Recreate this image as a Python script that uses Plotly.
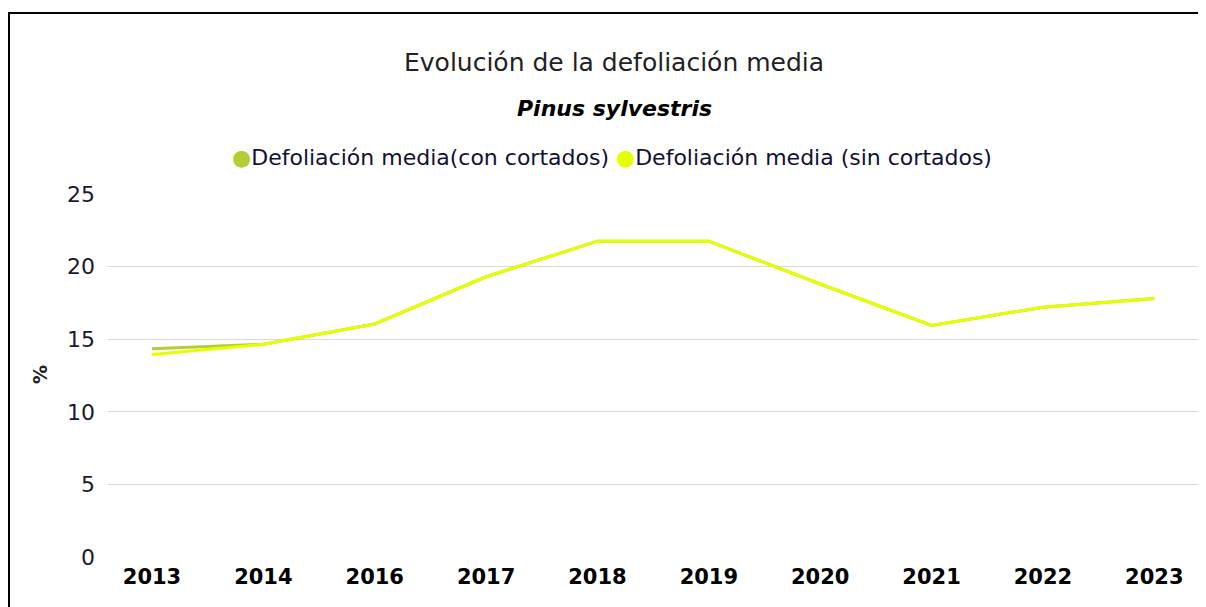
import plotly.graph_objects as go

years = ["2013", "2014", "2016", "2017", "2018", "2019", "2020", "2021", "2022", "2023"]
con_cortados = [14.35, 14.65, 16.05, 19.3, 21.75, 21.75, 18.8, 15.95, 17.2, 17.8]
sin_cortados = [13.95, 14.65, 16.05, 19.3, 21.75, 21.75, 18.8, 15.95, 17.2, 17.8]
y_ticks = [0, 5, 10, 15, 20, 25]

c_con = "#b5cc34"
c_sin = "#e6ff00"
font = "DejaVu Sans"

fig = go.Figure()
fig.add_trace(go.Scatter(x=years, y=con_cortados, mode="lines", name="Defoliación media(con cortados)",
                         line=dict(color=c_con, width=3), showlegend=False))
fig.add_trace(go.Scatter(x=years, y=sin_cortados, mode="lines", name="Defoliación media (sin cortados)",
                         line=dict(color=c_sin, width=3), showlegend=False))

OFF = 8  # page body margin
W, H = 1206 - OFF, 607 - OFF
ml, mr, mt, mb = 100, 6, 186, 50
pw, ph = W - ml - mr, H - mt - mb

def px(sx):
    return (sx - OFF - ml) / pw

def py(sy):
    return (H - mb - (sy - OFF)) / ph

fig.update_layout(
    width=W, height=H,
    margin=dict(l=ml, r=mr, t=mt, b=mb, pad=0),
    paper_bgcolor="white", plot_bgcolor="white",
    font=dict(family=font, color="#222222"),
    xaxis=dict(type="category", range=[-0.395, 9.41], showgrid=False, showline=False,
               ticks="", tickfont=dict(size=21, color="black", family=font, weight="bold"),
               ticklabelstandoff=5),
    yaxis=dict(range=[0, 25], tickvals=y_ticks, showgrid=True, gridcolor="#d9d9d9", gridwidth=1,
               zeroline=False, showline=False, ticks="",
               tickfont=dict(size=22, color="#1a1a2e", family=font), ticklabelstandoff=12),
    showlegend=False,
    annotations=[
        dict(text="Evolución de la defoliación media", x=px(614), y=py(62), xref="paper", yref="paper",
             showarrow=False, font=dict(size=25, color="#222222", family=font), xanchor="center", yanchor="middle"),
        dict(text="<b><i>Pinus sylvestris</i></b>", x=px(614), y=py(108), xref="paper", yref="paper",
             showarrow=False, font=dict(size=22, color="black", family=font), xanchor="center", yanchor="middle"),
        dict(text=f'<span style="color:{c_con}">●</span>Defoliación media(con cortados) '
                  f'<span style="color:{c_sin}">●</span>Defoliación media (sin cortados)',
             x=px(612), y=py(157), xref="paper", yref="paper", showarrow=False,
             font=dict(size=22, color="#111133", family=font), xanchor="center", yanchor="middle"),
        dict(text="<b>%</b>", x=px(40), y=py(375), xref="paper", yref="paper", showarrow=False,
             textangle=-90, font=dict(size=19, color="#222222", family=font),
             xanchor="center", yanchor="middle"),
    ],
    shapes=[
        dict(type="line", xref="paper", yref="paper", x0=px(8), x1=px(1206), y0=py(13), y1=py(13),
             line=dict(color="black", width=2)),
        dict(type="line", xref="paper", yref="paper", x0=px(9), x1=px(9), y0=py(13), y1=py(610),
             line=dict(color="black", width=2)),
    ],
)

fig.write_html("out.html")
